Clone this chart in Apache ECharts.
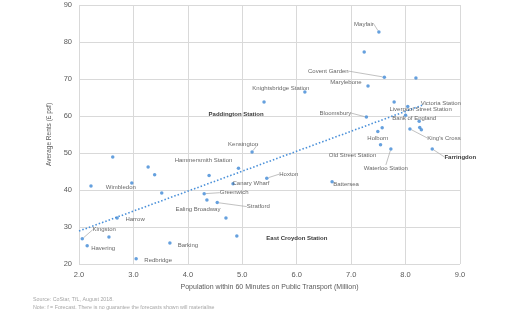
<!DOCTYPE html>
<html>
<head>
<meta charset="utf-8">
<script src="https://cdn.jsdelivr.net/npm/echarts@6/dist/echarts.min.js"></script>
<style>html,body{margin:0;padding:0;background:#fff}#c{width:507px;height:322px}</style>
</head>
<body>
<div id="c"></div>
<script>
// ---- data ----
var names = ['Mayfair','','Covent Garden','','Marylebone','Knightsbridge Station','Paddington Station','',
  'Victoria Station','Liverpool Street Station','Bloomsbury','Bank of England','','','King\'s Cross','',
  'Holborn','Old Street Station','Waterloo Station','Farringdon','Kensington','Hammersmith Station','',
  'Hoxton','Canary Wharf','Greenwich','Ealing Broadway','Stratford','','Battersea','East Croydon Station',
  '','','','','Wimbledon','','Harrow','Kingston','Havering','','Barking','Redbridge'];
var popX = [7.51,7.24,7.61,8.19,7.31,6.15,5.40,7.79,
  8.04,8.00,7.28,8.25,8.26,8.29,8.08,7.57,
  7.49,7.54,7.73,8.49,5.18,4.93,4.39,
  5.45,4.83,4.30,4.35,4.54,4.70,6.65,4.90,
  2.62,3.27,3.39,2.22,2.97,3.52,2.70,2.06,2.15,2.55,3.67,3.05];
var rentY = [82.7,77.3,70.5,70.3,68.1,66.5,63.8,63.8,
  62.6,60.2,59.7,58.6,56.9,56.3,56.5,56.8,
  55.8,52.2,51.1,51.1,50.3,45.9,43.9,
  43.2,41.7,39.0,37.3,36.6,32.4,42.2,27.6,
  48.9,46.2,44.1,41.1,41.9,39.2,32.4,26.8,24.9,27.3,25.7,21.4];
var trendX = [2.0, 8.32];
var trendY = [28.9, 63.0];
var xTicks = ['2.0','3.0','4.0','5.0','6.0','7.0','8.0','9.0'];
var yTicks = ['20','30','40','50','60','70','80','90'];

// ---- label placement (pixel offsets of label centre from its point) ----
var labelOffsets = {
  'Mayfair':[-15,-8], 'Covent Garden':[-56,-6], 'Marylebone':[-22,-4], 'Knightsbridge Station':[-24,-4],
  'Paddington Station':[-28,12], 'Bloomsbury':[-31,-4], 'Victoria Station':[33,-3],
  'Liverpool Street Station':[15,-6], 'Bank of England':[-5,-3], 'King\'s Cross':[34,9],
  'Holborn':[0,7], 'Old Street Station':[-28,10], 'Waterloo Station':[-5,19], 'Farringdon':[28,8],
  'Kensington':[-9,-8], 'Hammersmith Station':[-35,-8], 'Hoxton':[22,-4], 'Canary Wharf':[18,0],
  'Greenwich':[30,-1], 'Ealing Broadway':[-9,9], 'Stratford':[41,4], 'Battersea':[14,2],
  'East Croydon Station':[60,2], 'Wimbledon':[-11,4], 'Harrow':[18,1], 'Kingston':[22,-9],
  'Havering':[16,2], 'Barking':[18,2], 'Redbridge':[22,2]
};
var withLine = {'Mayfair':1,'Covent Garden':1,'Bloomsbury':1,'King\'s Cross':1,'Waterloo Station':1,
  'Farringdon':1,'Kensington':1,'Hoxton':1,'Greenwich':1,'Stratford':1,'Kingston':1};
var boldNames = {'Paddington Station':1,'Farringdon':1,'East Croydon Station':1};

var pts = names.map(function(n,i){
  var item = {name:n, value:[popX[i], rentY[i]]};
  if (!n) { item.label = {show:false}; }
  else {
    item.label = {show:true, fontWeight: boldNames[n] ? 'bold' : 'normal', color: boldNames[n] ? '#000' : '#404040'};
    item.labelLine = {show: !!withLine[n]};
  }
  return item;
});

var chart = echarts.init(document.getElementById('c'), null, {renderer:'canvas'});
chart.setOption({
  animation:false,
  grid:{left:79, right:47, top:5, bottom:58},
  xAxis:{type:'value', min:2, max:9, interval:1,
    name:'Population within 60 Minutes on Public Transport (Million)', nameLocation:'middle', nameGap:17,
    nameTextStyle:{color:'#595959', fontSize:7, fontFamily:'Liberation Sans'},
    axisLine:{show:false}, axisTick:{show:false},
    axisLabel:{color:'#595959', fontSize:7.5, margin:7, fontFamily:'Liberation Sans',
      formatter:function(v){ return xTicks[Math.round(v-2)]; }},
    splitLine:{show:true, lineStyle:{color:'#d9d9d9', width:1}}},
  yAxis:{type:'value', min:20, max:90, interval:10,
    name:'Average Rents (£ psf)', nameLocation:'middle', nameGap:17, nameRotate:90,
    nameTextStyle:{color:'#595959', fontSize:6.5, fontFamily:'Liberation Sans'},
    axisLine:{show:false}, axisTick:{show:false},
    axisLabel:{color:'#595959', fontSize:7.5, margin:7, fontFamily:'Liberation Sans',
      formatter:function(v){ return yTicks[Math.round((v-20)/10)]; }},
    splitLine:{show:true, lineStyle:{color:'#d9d9d9', width:1}}},
  series:[
    {type:'line', data:[[trendX[0],trendY[0]],[trendX[1],trendY[1]]], showSymbol:false, silent:true,
      lineStyle:{color:'#4a90d9', width:1.6, type:[1.5,2]}, z:1},
    {type:'scatter', data:pts, symbolSize:3.5, itemStyle:{color:'#3f88d6'}, z:3,
      label:{position:'inside', align:'center', verticalAlign:'middle', fontSize:6, fontFamily:'Liberation Sans',
        formatter:'{b}'},
      labelLine:{show:true, lineStyle:{color:'#a6a6a6', width:0.7}, length2:0},
      labelLayout:function(p){
        var n = names[p.dataIndex];
        var o = labelOffsets[n] || [0,0];
        return {dx:o[0], dy:o[1]};
      }}
  ],
  graphic:[
    {type:'text', left:33, top:297, style:{text:'Source: CoStar, TfL, August 2018.', fill:'#a6a6a6', fontSize:5.3, fontFamily:'Liberation Sans'}},
    {type:'text', left:33, top:305, style:{text:'Note: f = Forecast. There is no guarantee the forecasts shown will materialise', fill:'#a6a6a6', fontSize:5.3, fontFamily:'Liberation Sans'}}
  ]
});
</script>
</body>
</html>
